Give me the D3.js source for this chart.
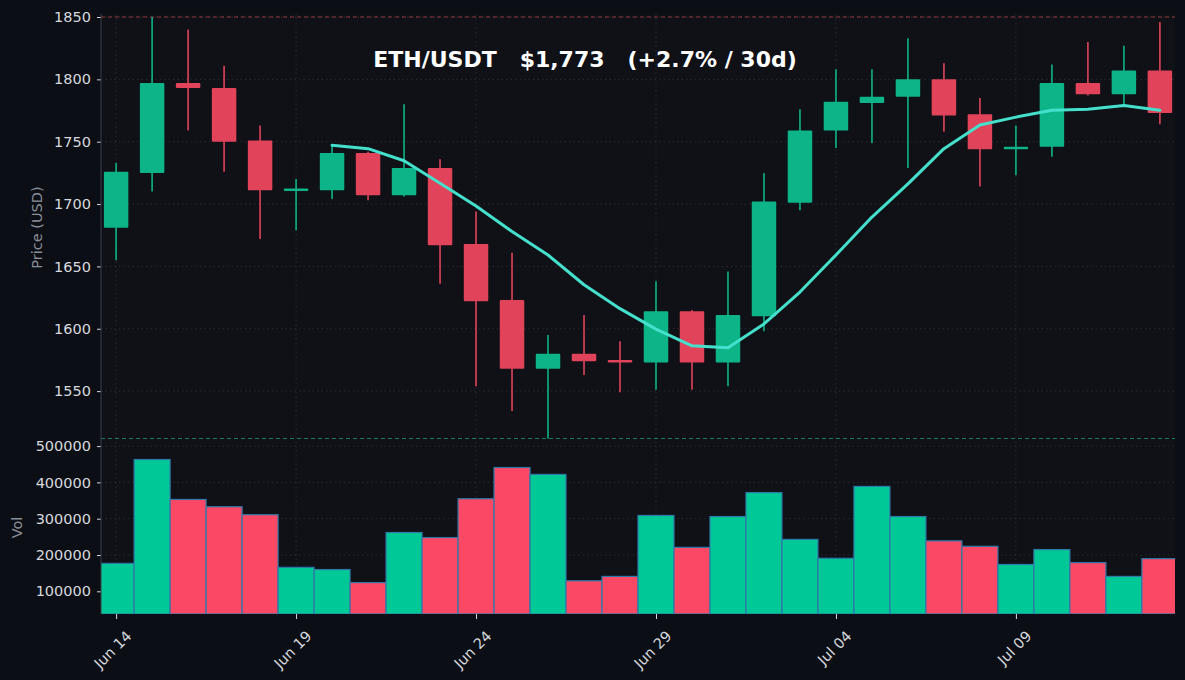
<!DOCTYPE html>
<html>
<head>
<meta charset="utf-8">
<script src="https://cdn.jsdelivr.net/npm/d3@7"></script>
<style>
	html, body { margin: 0; padding: 0; background: #0b0e14; }
	svg text { font-family: "DejaVu Sans", sans-serif; }
</style>
</head>
<body>
<div id="chart"></div>
<script>
var days = ["2023-06-14", "2023-06-15", "2023-06-16", "2023-06-17", "2023-06-18", "2023-06-19",
	"2023-06-20", "2023-06-21", "2023-06-22", "2023-06-23", "2023-06-24", "2023-06-25",
	"2023-06-26", "2023-06-27", "2023-06-28", "2023-06-29", "2023-06-30", "2023-07-01",
	"2023-07-02", "2023-07-03", "2023-07-04", "2023-07-05", "2023-07-06", "2023-07-07",
	"2023-07-08", "2023-07-09", "2023-07-10", "2023-07-11", "2023-07-12", "2023-07-13"];
var open   = [1681, 1725, 1797, 1793, 1751, 1711, 1711, 1741, 1707, 1729, 1668, 1623, 1568, 1580, 1575,
	1573, 1614, 1573, 1610, 1701, 1759, 1781, 1786, 1800, 1772, 1744, 1746, 1797, 1788, 1807];
var high   = [1733, 1850, 1840, 1811, 1763, 1720, 1748, 1742, 1780, 1736, 1694, 1661, 1595, 1611, 1590,
	1638, 1615, 1646, 1725, 1776, 1808, 1808, 1833, 1813, 1785, 1763, 1812, 1830, 1827, 1846];
var low    = [1655, 1710, 1759, 1726, 1672, 1679, 1704, 1703, 1706, 1636, 1554, 1534, 1512, 1563, 1549,
	1551, 1551, 1554, 1598, 1695, 1745, 1749, 1729, 1758, 1714, 1723, 1738, 1787, 1780, 1764];
var close  = [1726, 1797, 1793, 1750, 1711, 1712, 1741, 1707, 1729, 1667, 1622, 1568, 1580, 1574, 1573,
	1614, 1573, 1611, 1702, 1759, 1782, 1786, 1800, 1771, 1744, 1746, 1797, 1788, 1807, 1773];
var volume = [177000, 463000, 353000, 333000, 311000, 166000, 160000, 124000, 262000, 248000,
	355000, 441000, 422000, 129000, 141000, 309000, 221000, 306000, 372000, 243000,
	191000, 389000, 306000, 239000, 224000, 174000, 215000, 179000, 141000, 190000];

var priceTicks = [1550, 1600, 1650, 1700, 1750, 1800, 1850];
var volTicks = [100000, 200000, 300000, 400000, 500000];
var dateTicks = ["2023-06-14", "2023-06-19", "2023-06-24", "2023-06-29", "2023-07-04", "2023-07-09"];
var maWindow = 7;
var title = "ETH/USDT   $1,773   (+2.7% / 30d)";

function makeChart() {
	var W = 1185, H = 680;
	var left = 101, right = 1175;
	var priceTop = 14, priceBottom = 441, volBottom = 614;
	var DAY = 864e5;
	var parse = d3.utcParse("%Y-%m-%d");

	var green = "#0db488", red = "#e0435a";
	var volGreen = "#00c896", volRed = "#fb4864";

	var site = days.map(function(d, i) {
		return { date: parse(d), o: open[i], h: high[i], l: low[i], c: close[i], v: volume[i] };
	});
	// 7 day moving average of close
	site.forEach(function(d, i) {
		d.ma = (i >= maWindow - 1) ? d3.mean(close.slice(i - maWindow + 1, i + 1)) : null;
	});

	var first = site[0].date, last = site[site.length - 1].date;
	var x = d3.scaleUtc()
	    .domain([new Date(+first - 0.42 * DAY), new Date(+last + 0.42 * DAY)])
	    .range([left, right]);
	var dayW = x(new Date(+first + DAY)) - x(first);

	var y = d3.scaleLinear().domain([1510, 1852.4]).range([priceBottom, priceTop]);
	var yv = d3.scaleLinear().domain([37500, 514000]).range([volBottom, priceBottom]);

	var svg = d3.select("#chart")
	  .append("svg")
	    .attr("width", W)
	    .attr("height", H);

	svg.append("rect").attr("width", W).attr("height", H).attr("fill", "#0b0e14");
	svg.append("rect")
	    .attr("x", left).attr("y", priceTop)
	    .attr("width", right - left).attr("height", volBottom - priceTop)
	    .attr("fill", "#0f1116");

	svg.append("clipPath").attr("id", "clip")
	  .append("rect")
	    .attr("x", left).attr("y", priceTop)
	    .attr("width", right - left).attr("height", volBottom - priceTop);

	//grid
	var grid = svg.append("g")
	    .style("stroke", "#2b2e36")
	    .style("stroke-width", "0.9px")
	    .style("stroke-dasharray", "1.5,3");
	grid.selectAll(".gx")
	    .data(dateTicks.map(parse))
	  .enter().append("line")
	    .attr("x1", function(d) { return x(d); })
	    .attr("x2", function(d) { return x(d); })
	    .attr("y1", priceTop)
	    .attr("y2", volBottom);
	grid.selectAll(".gy")
	    .data(priceTicks)
	  .enter().append("line")
	    .attr("x1", left).attr("x2", right)
	    .attr("y1", function(d) { return y(d); })
	    .attr("y2", function(d) { return y(d); });
	grid.selectAll(".gv")
	    .data(volTicks)
	  .enter().append("line")
	    .attr("x1", left).attr("x2", right)
	    .attr("y1", function(d) { return yv(d); })
	    .attr("y2", function(d) { return yv(d); });

	//range lines at max high / min low
	svg.append("line")
	    .attr("x1", left).attr("x2", right)
	    .attr("y1", y(d3.max(high))).attr("y2", y(d3.max(high)))
	    .style("stroke", "#b8424f").style("stroke-opacity", 0.75)
	    .style("stroke-width", "1px").style("stroke-dasharray", "4,3");
	svg.append("line")
	    .attr("x1", left).attr("x2", right)
	    .attr("y1", y(d3.min(low))).attr("y2", y(d3.min(low)))
	    .style("stroke", "#1f9e7c").style("stroke-opacity", 0.75)
	    .style("stroke-width", "1px").style("stroke-dasharray", "4,3");

	var plot = svg.append("g").attr("clip-path", "url(#clip)");

	//volume bars
	plot.selectAll(".vol")
	    .data(site)
	  .enter().append("rect")
	    .attr("x", function(d) { return x(d.date) - dayW / 2; })
	    .attr("y", function(d) { return yv(d.v); })
	    .attr("width", dayW)
	    .attr("height", function(d) { return volBottom - yv(d.v); })
	    .style("fill", function(d) { return d.c >= d.o ? volGreen : volRed; })
	    .style("stroke", "#2f78a8")
	    .style("stroke-width", "1.2px");

	//candles
	var candle = plot.selectAll(".candle")
	    .data(site)
	  .enter().append("g")
	    .attr("transform", function(d) { return "translate(" + x(d.date) + ",0)"; });
	candle.append("line")
	    .attr("y1", function(d) { return y(d.h); })
	    .attr("y2", function(d) { return y(d.l); })
	    .style("stroke", function(d) { return d.c >= d.o ? green : red; })
	    .style("stroke-width", "1.6px");
	candle.append("rect")
	    .attr("x", -dayW * 0.34)
	    .attr("width", dayW * 0.68)
	    .attr("y", function(d) {
			var t = y(Math.max(d.o, d.c)), b = y(Math.min(d.o, d.c));
			return (b - t < 2.5) ? (t + b) / 2 - 1.25 : t;
	    })
	    .attr("height", function(d) { return Math.max(2.5, Math.abs(y(d.o) - y(d.c))); })
	    .attr("rx", 1)
	    .style("fill", function(d) { return d.c >= d.o ? green : red; });

	//moving average
	var line = d3.line()
	    .defined(function(d) { return d.ma !== null; })
	    .x(function(d) { return x(d.date); })
	    .y(function(d) { return y(d.ma); });
	plot.append("path")
	    .datum(site)
	    .attr("d", line)
	    .style("fill", "none")
	    .style("stroke", "#45e0cc")
	    .style("stroke-width", "3px")
	    .style("stroke-linejoin", "round")
	    .style("stroke-linecap", "round");

	//axes
	var textColor = "#d6d9df";
	var yAxis = svg.append("g")
	    .attr("transform", "translate(" + left + ",0)")
	    .call(d3.axisLeft(y).tickValues(priceTicks).tickSize(4).tickPadding(6).tickFormat(d3.format("d")));
	var vAxis = svg.append("g")
	    .attr("transform", "translate(" + left + ",0)")
	    .call(d3.axisLeft(yv).tickValues(volTicks).tickSize(4).tickPadding(6).tickFormat(d3.format("d")));
	var xAxis = svg.append("g")
	    .attr("transform", "translate(0," + volBottom + ")")
	    .call(d3.axisBottom(x).tickValues(dateTicks.map(parse)).tickSize(5).tickFormat(d3.utcFormat("%b %d")));

	[yAxis, vAxis, xAxis].forEach(function(a) {
		a.select(".domain").remove();
		a.selectAll(".tick line").style("stroke", textColor);
		a.selectAll(".tick text")
		    .style("fill", textColor)
		    .style("font-size", "14.5px")
		    .style("font-family", "DejaVu Sans");
	});
	xAxis.selectAll(".tick text")
	    .attr("text-anchor", "end")
	    .attr("dy", null)
	    .attr("y", 0)
	    .attr("transform", "translate(16,23) rotate(-45)");

	svg.append("line")
	    .attr("x1", left).attr("x2", left)
	    .attr("y1", priceTop).attr("y2", volBottom)
	    .style("stroke", "#3a3e48").style("stroke-width", "1px");

	svg.append("text")
	    .attr("transform", "translate(42," + (priceTop + priceBottom) / 2 + ") rotate(-90)")
	    .attr("text-anchor", "middle")
	    .style("fill", "#8a8f99")
	    .style("font-size", "14.5px")
	    .text("Price (USD)");
	svg.append("text")
	    .attr("transform", "translate(22," + (priceBottom + volBottom) / 2 + ") rotate(-90)")
	    .attr("text-anchor", "middle")
	    .style("fill", "#8a8f99")
	    .style("font-size", "14.5px")
	    .text("Vol");

	svg.append("text")
	    .attr("x", 585)
	    .attr("y", 67)
	    .attr("text-anchor", "middle")
	    .style("fill", "#ffffff")
	    .style("font-weight", "bold")
	    .style("font-size", "22px")
	    .style("white-space", "pre")
	    .attr("xml:space", "preserve")
	    .text(title);
}

makeChart();
</script>
</body>
</html>
